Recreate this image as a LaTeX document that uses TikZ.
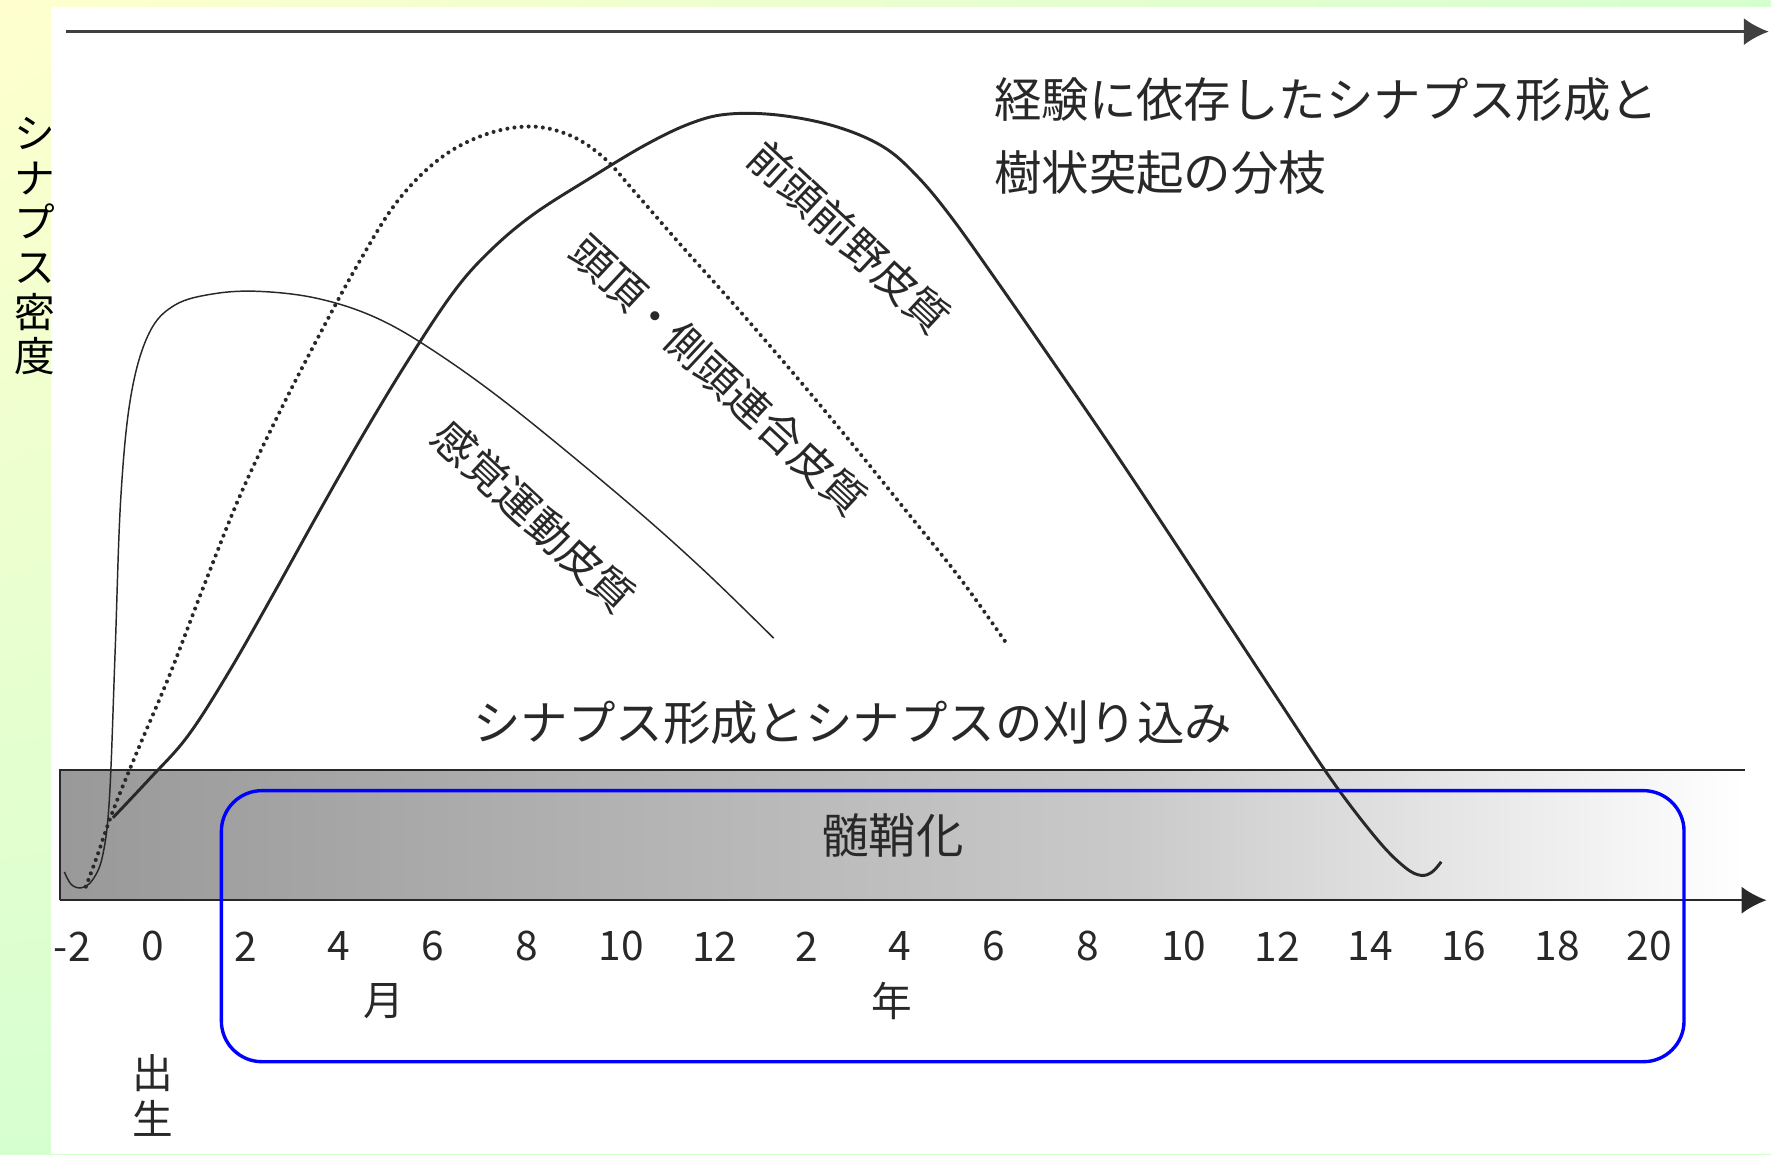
\documentclass[tikz,border=0pt]{standalone}
\usepackage{fontspec}
\setmainfont{Noto Sans CJK JP}
\usetikzlibrary{arrows.meta,shadings}

\definecolor{bgyellow}{RGB}{255,255,206}
\definecolor{bggreen}{RGB}{214,255,208}
\definecolor{ink}{RGB}{40,40,40}

\begin{document}
\begin{tikzpicture}[x=1pt, y=-1pt]
  \tikzstyle{txt} = [text=ink, inner sep=0pt, font=\fontsize{42}{46}\selectfont]
  \tikzstyle{region} = [txt, rotate=-43, font=\fontsize{38}{42}\selectfont]
  \tikzstyle{ticklabel} = [txt, font=\fontsize{36}{40}\selectfont]
  \tikzstyle{axis} = [line width=2pt, ink, -{Latex[length=22pt, width=24pt]}]
  \tikzstyle{sensory} = [line width=1.3pt, ink]
  \tikzstyle{parietal} = [line width=3.6pt, ink, line cap=round, dash pattern=on 0pt off 6.3pt]
  \tikzstyle{frontal} = [line width=2.6pt, ink]
  \tikzstyle{focus} = [draw=blue, line width=3pt, rounded corners=36pt]

  \useasboundingbox (0,0) rectangle (1568,1022);

  % background
  \shade[upper left=bgyellow, upper right=bggreen, lower left=bggreen, lower right=bggreen]
    (0,0) rectangle (1568,1022);
  \fill[white] (45,6) rectangle (1568,1022);

  % myelination band
  \shade[left color=black!40, right color=black!21] (53,682) rectangle (1000,797);
  \shade[left color=black!21, right color=white] (999.5,682) rectangle (1545,797);
  \draw[line width=1.6pt, ink] (53,797) -- (53,682) -- (1545,682);

  % axes
  \coordinate (top0) at (58,28);
  \coordinate (top1) at (1566,28);
  \coordinate (x0) at (53,797);
  \coordinate (x1) at (1564,797);
  \draw[axis, line width=2.6pt, black!75] (top0) -- (top1);
  \draw[axis] (x0) -- (x1);

  % curves
  \draw[sensory] plot[smooth, tension=0.6] coordinates {
    (57,772) (63,783) (72,786) (82,779) (91,757) (97,705) (102,575) (107,440)
    (116,350) (132,295) (155,270) (190,260) (230,258) (280,264) (330,280)
    (380,308) (450,358) (550,440) (620,502) (685,565)};
  \draw[parietal] plot[smooth, tension=0.6] coordinates {
    (76,785) (86,758) (100,718) (122,664) (150,598) (180,520) (212,440)
    (246,368) (282,298) (318,232) (352,178) (390,140) (430,119) (470,112)
    (505,120) (535,140) (562,170) (602,216) (652,272) (702,330) (752,390)
    (802,452) (850,512) (890,568)};
  \draw[frontal] plot[smooth, tension=0.6] coordinates {
    (100,724) (132,690) (166,652) (202,596) (242,526) (282,454) (322,384)
    (362,318) (402,258) (434,222) (472,190) (522,158) (572,128) (612,109)
    (645,101) (690,102) (740,112) (782,130) (812,156) (842,192) (882,248)
    (932,320) (982,393) (1032,468) (1082,544) (1132,620) (1180,692)
    (1220,744) (1244,768) (1258,775) (1268,772) (1276,763)};

  % texts
  \node[txt, anchor=west] (exp1) at (880,88) {経験に依存したシナプス形成と};
  \node[txt, anchor=west] (exp2) at (880,153) {樹状突起の分枝};
  \node[txt] (prune) at (755,640) {シナプス形成とシナプスの刈り込み};
  \node[txt] (myelin) at (790,740) {髄鞘化};

  \node[region] (pfc) at (752,210) {前頭前野皮質};
  \node[region] (ptc) at (636,332) {頭頂・側頭連合皮質};
  \node[region] (smc) at (473,457) {感覚運動皮質};

  \node[txt, align=center, font=\fontsize{36}{39.5}\selectfont, text=black] (ylabel) at (31,218)
    {シ\\ナ\\プ\\ス\\密\\度};

  % ticks
  \node[ticklabel] (m-2) at (64,838) {-2};
  \node[ticklabel] (m0) at (135,838) {0};
  \node[ticklabel] (m2) at (218,838) {2};
  \node[ticklabel] (m4) at (300,838) {4};
  \node[ticklabel] (m6) at (383,838) {6};
  \node[ticklabel] (m8) at (466,838) {8};
  \node[ticklabel] (m10) at (550,838) {10};
  \node[ticklabel] (m12) at (633,838) {12};
  \node[ticklabel] (y2) at (714,838) {2};
  \node[ticklabel] (y4) at (797,838) {4};
  \node[ticklabel] (y6) at (880,838) {6};
  \node[ticklabel] (y8) at (963,838) {8};
  \node[ticklabel] (y10) at (1048,838) {10};
  \node[ticklabel] (y12) at (1131,838) {12};
  \node[ticklabel] (y14) at (1213,838) {14};
  \node[ticklabel] (y16) at (1296,838) {16};
  \node[ticklabel] (y18) at (1379,838) {18};
  \node[ticklabel] (y20) at (1460,838) {20};

  \node[ticklabel] (month) at (340,886) {月};
  \node[ticklabel] (year) at (790,886) {年};
  \node[ticklabel, align=center, font=\fontsize{36}{41}\selectfont] (birth) at (135,970) {出\\生};

  % highlight
  \draw[focus] (196,700) rectangle (1491,940);
\end{tikzpicture}
\end{document}
